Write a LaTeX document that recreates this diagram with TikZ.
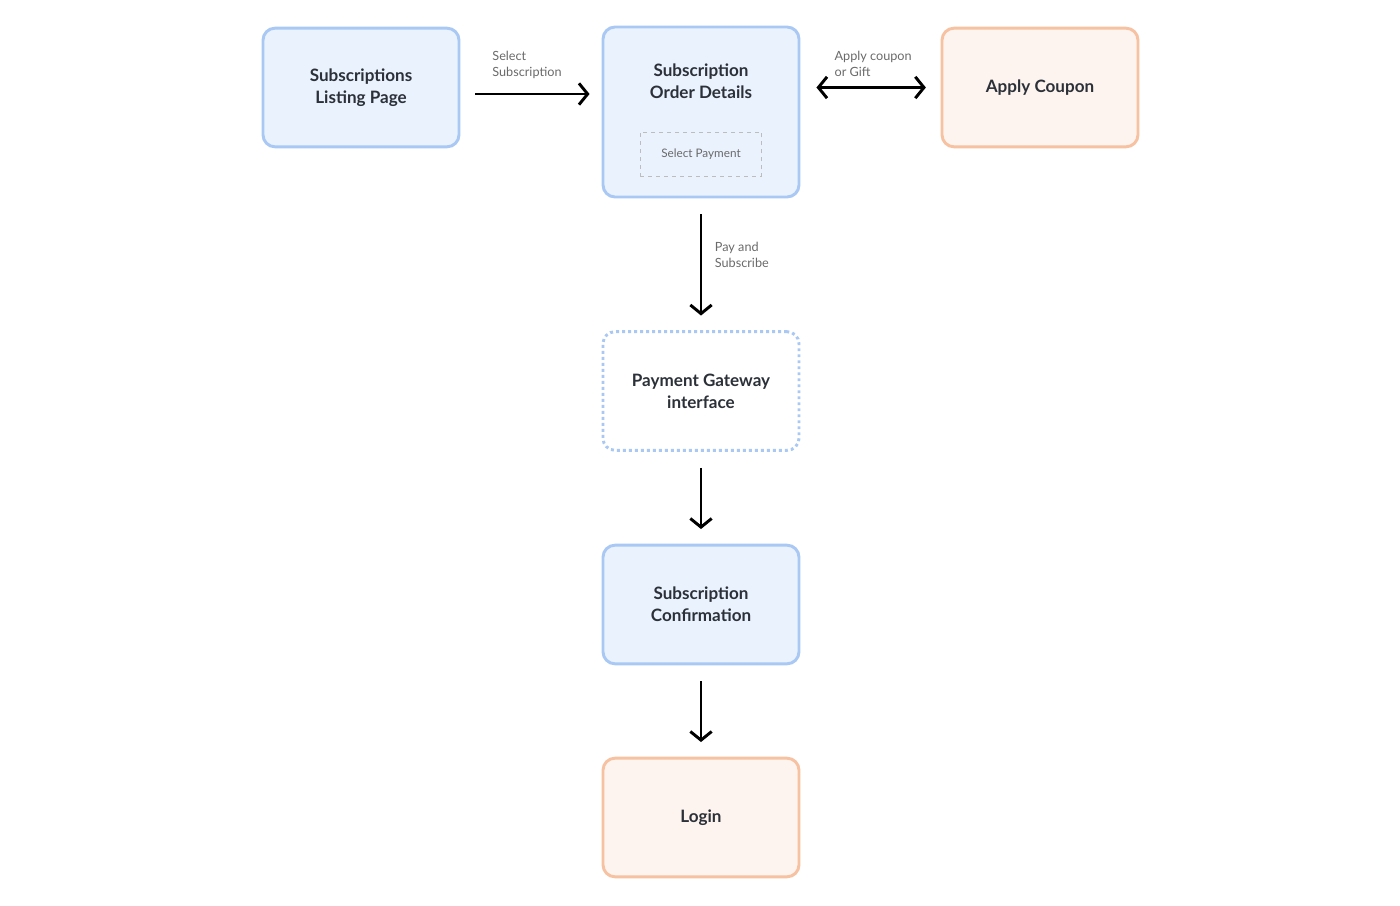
\documentclass[tikz,border=0pt]{standalone}
\usepackage{fontspec}
\setmainfont{Lato}
\usepackage{tikz}
\usetikzlibrary{arrows.meta,positioning,calc}
\definecolor{boxblue}{HTML}{A9C9F4}
\definecolor{fillblue}{HTML}{EAF2FD}
\definecolor{boxorange}{HTML}{F6C2A2}
\definecolor{fillorange}{HTML}{FDF4EF}
\definecolor{txtdark}{HTML}{2C3139}
\definecolor{txtgray}{HTML}{6A6A6A}
\definecolor{linegray}{HTML}{BDBDBD}
\tikzset{%
	bluebox/.style   = {draw=boxblue, fill=fillblue, line width=2.2pt, rounded corners=9pt, minimum width=147pt, minimum height=89pt, text centered, align=center, font=\bfseries\fontsize{12.8}{16.5}\selectfont, text=txtdark},
	orangebox/.style = {bluebox, draw=boxorange, fill=fillorange},
	gatewaybox/.style= {bluebox, fill=white, dash pattern=on 2.2pt off 2.3pt},
	innerbox/.style  = {draw=linegray, dashed, line width=0.6pt, minimum width=91pt, minimum height=33pt, font=\fontsize{8.8}{10}\selectfont, text=txtgray},
	arrow/.style     = {line width=2.2pt, -{Straight Barb[length=6.5pt,width=16pt]}, shorten <=12pt, shorten >=11pt},
	edgelabel/.style = {font=\fontsize{9.5}{12}\selectfont, text=txtgray, align=left},
}
\begin{document}
\begin{tikzpicture}[x=0.75pt,y=-0.75pt]
	\useasboundingbox (0,0) rectangle (1400,906);
	\node[bluebox] (listing) at (361,87.5) {Subscriptions\\Listing Page};
	\node[bluebox, minimum height=127.5pt] (order) at (701,112) {};
	\node[txtdark, font=\bfseries\fontsize{12.8}{16.5}\selectfont, align=center] (ordertitle) at (701,81) {Subscription\\Order Details};
	\node[innerbox] (selpay) at (701,154) {Select Payment};
	\node[orangebox] (coupon) at (1040,87.5) {Apply Coupon};
	\node[gatewaybox] (gateway) at (701,391) {Payment Gateway\\interface};
	\node[bluebox] (confirm) at (701,604.5) {Subscription\\Confirmation};
	\node[orangebox] (login) at (701,817.5) {Login};
	\coordinate (selrow) at (0,94); % arrow sits a bit lower
	\draw[arrow, shorten <=11pt, shorten >=9pt] (listing.east |- selrow) -- node[edgelabel, above=7pt, xshift=-3pt] {Select\\Subscription} (order.west |- selrow);
	\draw[arrow, {Straight Barb[length=6.5pt,width=16pt]}-{Straight Barb[length=6.5pt,width=16pt]}] (order.east |- coupon.west) -- node[edgelabel, above=4pt, xshift=2pt] {Apply coupon\\or Gift} (coupon.west);
	\draw[arrow] (order) -- node[edgelabel, right=6pt, pos=0.43] {Pay and\\Subscribe} (gateway);
	\draw[arrow] (gateway) -- (confirm);
	\draw[arrow] (confirm) -- (login);
\end{tikzpicture}
\end{document}
